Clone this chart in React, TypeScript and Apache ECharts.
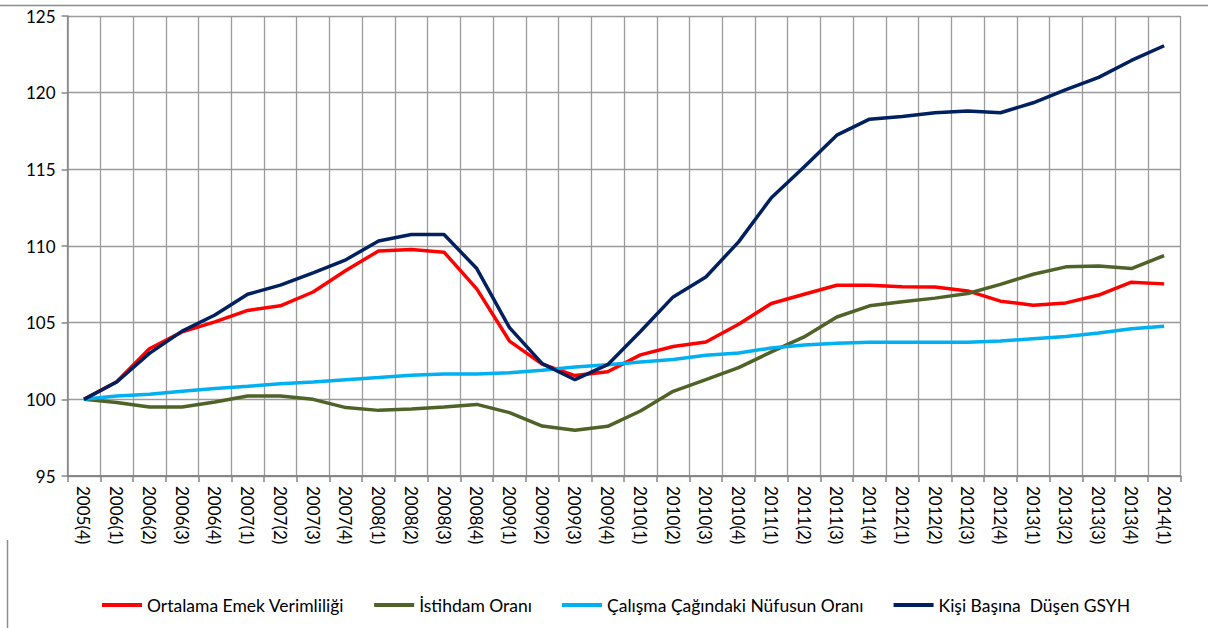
import React, { useEffect, useRef } from "react";
import * as echarts from "echarts";

const categories = [
  "2005(4)",
  "2006(1)", "2006(2)", "2006(3)", "2006(4)",
  "2007(1)", "2007(2)", "2007(3)", "2007(4)",
  "2008(1)", "2008(2)", "2008(3)", "2008(4)",
  "2009(1)", "2009(2)", "2009(3)", "2009(4)",
  "2010(1)", "2010(2)", "2010(3)", "2010(4)",
  "2011(1)", "2011(2)", "2011(3)", "2011(4)",
  "2012(1)", "2012(2)", "2012(3)", "2012(4)",
  "2013(1)", "2013(2)", "2013(3)", "2013(4)",
  "2014(1)",
];

const emekVerimliligi = [
  100, 101.15, 103.3, 104.4, 105.05, 105.8, 106.1, 107.0, 108.4, 109.68, 109.77, 109.6,
  107.2, 103.8, 102.3, 101.55, 101.8, 102.9, 103.45, 103.74, 104.9, 106.25, 106.85,
  107.44, 107.44, 107.35, 107.33, 107.07, 106.4, 106.14, 106.29, 106.8, 107.64, 107.53,
];

const istihdamOrani = [
  100, 99.8, 99.5, 99.5, 99.82, 100.22, 100.22, 100.0, 99.46, 99.28, 99.37, 99.5,
  99.67, 99.13, 98.26, 97.98, 98.24, 99.24, 100.52, 101.28, 102.07, 103.09, 104.07,
  105.37, 106.1, 106.36, 106.6, 106.9, 107.5, 108.16, 108.64, 108.7, 108.53, 109.38,
];

const nufusOrani = [
  100, 100.22, 100.33, 100.52, 100.7, 100.85, 101.02, 101.13, 101.28, 101.42, 101.57, 101.65,
  101.65, 101.74, 101.89, 102.11, 102.26, 102.43, 102.6, 102.87, 103.02, 103.35, 103.55,
  103.65, 103.72, 103.72, 103.72, 103.72, 103.8, 103.95, 104.1, 104.33, 104.6, 104.76,
];

const kisiBasinaGsyh = [
  100, 101.13, 103.0, 104.45, 105.5, 106.85, 107.45, 108.25, 109.1, 110.33, 110.75, 110.75,
  108.53, 104.68, 102.33, 101.28, 102.26, 104.42, 106.68, 107.98, 110.27, 113.15, 115.15,
  117.23, 118.27, 118.45, 118.69, 118.8, 118.69, 119.34, 120.2, 121.0, 122.1, 123.06,
];

const seriesNames = [
  "Ortalama Emek Verimliliği",
  "İstihdam Oranı",
  "Çalışma Çağındaki Nüfusun Oranı",
  "Kişi Başına  Düşen GSYH",
];
const seriesColors = ["#FF0000", "#4F6228", "#00B0F0", "#002060"];

const FONT = "Lato, 'Noto Sans', sans-serif";

export default function App() {
  const ref = useRef<HTMLDivElement>(null);

  useEffect(() => {
    if (!ref.current) return;
    const chart = echarts.init(ref.current, undefined, { renderer: "svg" });
    const data = [emekVerimliligi, istihdamOrani, nufusOrani, kisiBasinaGsyh];
    chart.setOption({
      animation: false,
      backgroundColor: "#ffffff",
      textStyle: { fontFamily: FONT },
      grid: { left: 67.6, right: 27.5, top: 16, bottom: 152, containLabel: false },
      legend: {
        left: 97,
        top: 591,
        itemWidth: 40,
        itemHeight: 4,
        itemGap: 30,
        icon: "rect",
        textStyle: { fontFamily: FONT, fontSize: 17.5, color: "#000" },
        data: seriesNames,
      },
      xAxis: {
        type: "category",
        data: categories,
        boundaryGap: true,
        axisLine: { lineStyle: { color: "#868686", width: 2 } },
        axisTick: { show: true, alignWithLabel: false, length: 6, lineStyle: { color: "#868686", width: 1.5 } },
        axisLabel: {
          interval: 0,
          rotate: -90,
          margin: 10,
          fontFamily: FONT,
          fontSize: 17,
          color: "#000",
        },
        splitLine: { show: true, interval: 0, lineStyle: { color: "#9a9a9a", width: 1.3 } },
      },
      yAxis: {
        type: "value",
        min: 95,
        max: 125,
        interval: 5,
        axisLine: { show: true, lineStyle: { color: "#868686", width: 1.5 } },
        axisTick: { show: true, length: 6, lineStyle: { color: "#868686", width: 1.5 } },
        axisLabel: { fontFamily: FONT, fontSize: 17, color: "#000", margin: 12 },
        splitLine: { show: true, lineStyle: { color: "#9a9a9a", width: 1.3 } },
      },
      graphic: [
        { type: "line", shape: { x1: 0, y1: 5.5, x2: 1208, y2: 5.5 }, style: { stroke: "#8c8c8c", lineWidth: 1.5 } },
        { type: "line", shape: { x1: 7.5, y1: 540, x2: 7.5, y2: 628 }, style: { stroke: "#8c8c8c", lineWidth: 1.5 } },
      ],
      series: seriesNames.map((name, i) => ({
        name,
        type: "line",
        data: data[i],
        showSymbol: false,
        symbol: "none",
        lineStyle: { color: seriesColors[i], width: 3.5 },
        itemStyle: { color: seriesColors[i] },
        z: 2 + i,
      })),
    });
    return () => chart.dispose();
  }, []);

  return <div ref={ref} style={{ width: 1208, height: 628, position: "absolute", left: 0, top: 0 }} />;
}
